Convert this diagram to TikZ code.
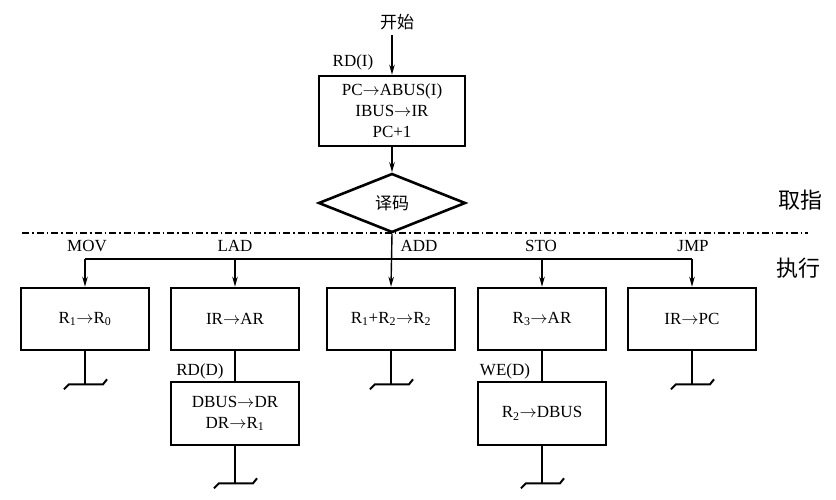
\documentclass[tikz,border=0pt]{standalone}
\usepackage{fontspec}
\setmainfont{Liberation Serif}
\newfontfamily\cjk{Noto Sans CJK SC}
\usetikzlibrary{shapes.geometric,arrows.meta}
\newcommand\tto{\ensuremath{\rightarrow}}
\begin{document}
\begin{tikzpicture}[x=1pt,y=-1pt,
  txt/.style={font=\fontsize{17}{21}\selectfont,inner sep=0pt},
  box/.style={draw,line width=2.6pt,minimum width=128pt,minimum height=62pt,inner sep=0pt,align=center,font=\fontsize{17}{21}\selectfont},
  conn/.style={line width=1.4pt},
  arr/.style={conn,-{Stealth[length=10pt,width=5.5pt]}},
  term/.pic={\draw[line width=2pt] (-21,5) -- (-16,0) -- (18,0) -- (22,-5);}
]
\useasboundingbox (0,0) rectangle (836,499);
% start
\node[font=\cjk\fontsize{17}{20}\selectfont,inner sep=0pt] (start) at (397,22) {开始};
\node[box,minimum width=146pt,minimum height=70pt] (fetch) at (392,111) {PC\tto ABUS(I)\\IBUS\tto IR\\PC+1};
\node[txt] (rdi) at (353,62) {RD(I)};
\node[draw,diamond,line width=2.6pt,minimum width=147pt,minimum height=59pt,inner sep=0pt,font=\cjk\fontsize{17}{20}\selectfont] (dec) at (392,203) {译码};
\coordinate (s0) at (392,35);
\draw[arr] (s0) -- (fetch.north);
\draw[arr] (fetch.south) -- (dec.north);
% phase separator
\coordinate (sepL) at (22,233);
\coordinate (sepR) at (808,233);
\draw[conn,dash pattern=on 7pt off 3pt on 1.5pt off 3pt] (sepL) -- (sepR);
\node[font=\cjk\fontsize{22}{24}\selectfont,inner sep=0pt] (qz) at (800,200) {取指};
\node[font=\cjk\fontsize{22}{24}\selectfont,inner sep=0pt] (zx) at (798,268) {执行};
% execute boxes
\node[box] (mov) at (85,319) {R\textsubscript{1}\tto R\textsubscript{0}};
\node[box] (lad) at (235,319) {IR\tto AR};
\node[box] (add) at (391,319) {R\textsubscript{1}+R\textsubscript{2}\tto R\textsubscript{2}};
\node[box] (sto) at (542,319) {R\textsubscript{3}\tto AR};
\node[box] (jmp) at (692,319) {IR\tto PC};
\node[box,minimum height=63pt] (lad2) at (235,413.5) {DBUS\tto DR\\DR\tto R\textsubscript{1}};
\node[box,minimum height=63pt] (sto2) at (542,413.5) {R\textsubscript{2}\tto DBUS};
% bus
\coordinate (bus) at (392,259);
\draw[conn] (mov.north |- bus) -- (jmp.north |- bus);
\draw[arr] (mov.north |- bus) -- (mov.north);
\draw[arr] (lad.north |- bus) -- (lad.north);
\draw[arr] (dec.south) -- (add.north);
\draw[arr] (sto.north |- bus) -- (sto.north);
\draw[arr] (jmp.north |- bus) -- (jmp.north);
\node[txt] (lmov) at (87,246) {MOV};
\node[txt] (llad) at (235,246) {LAD};
\node[txt] (ladd) at (419,246) {ADD};
\node[txt] (lsto) at (541,246) {STO};
\node[txt] (ljmp) at (693,246) {JMP};
% second steps
\draw[conn] (lad.south) -- (lad2.north);
\draw[conn] (sto.south) -- (sto2.north);
\node[txt] (rdd) at (200,371) {RD(D)};
\node[txt] (wed) at (505,371) {WE(D)};
% terminals
\coordinate (t1) at ([yshift=-33pt]mov.south);
\coordinate (t2) at ([yshift=-33pt]add.south);
\coordinate (t3) at ([yshift=-33pt]jmp.south);
\coordinate (t4) at ([yshift=-37pt]lad2.south);
\coordinate (t5) at ([yshift=-37pt]sto2.south);
\draw[conn] (mov.south) -- (t1);
\draw[conn] (add.south) -- (t2);
\draw[conn] (jmp.south) -- (t3);
\draw[conn] (lad2.south) -- (t4);
\draw[conn] (sto2.south) -- (t5);
\pic at (t1) {term};
\pic at (t2) {term};
\pic at (t3) {term};
\pic at (t4) {term};
\pic at (t5) {term};
\end{tikzpicture}
\end{document}
